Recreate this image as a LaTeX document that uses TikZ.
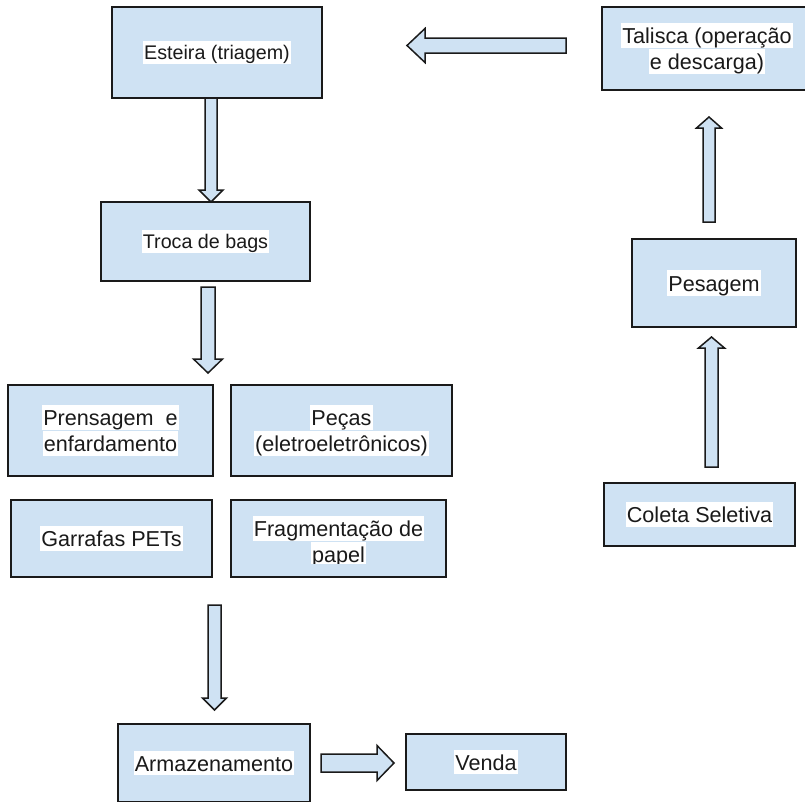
\documentclass[tikz,border=0pt]{standalone}
\usepackage{fontspec}
\setmainfont{Liberation Sans}
\usetikzlibrary{calc}
\definecolor{boxfill}{HTML}{CFE2F3}
\definecolor{edge}{HTML}{1A1A1A}
\newcommand{\hl}[1]{{\setlength{\fboxsep}{0pt}\colorbox{white}{\rule[-0.19em]{0pt}{1.15em}\hspace{1pt}#1\hspace{1pt}}}}
\newcommand{\blockarrow}[5]{%
  \coordinate (ba-s) at (#1);
  \coordinate (ba-e) at (#2);
  \coordinate (ba-h) at ($(ba-e)!#5!(ba-s)$);
  \draw[barrow] ($(ba-s)!#3!90:(ba-e)$) -- ($(ba-h)!#3!90:(ba-e)$) -- ($(ba-h)!#4!90:(ba-e)$) -- (ba-e)
     -- ($(ba-h)!#4!-90:(ba-e)$) -- ($(ba-h)!#3!-90:(ba-e)$) -- ($(ba-s)!#3!-90:(ba-e)$) -- cycle;}
\begin{document}
\begin{tikzpicture}[x=1pt,y=-1pt,
  box/.style={draw=edge, fill=boxfill, line width=1.8pt, rectangle, inner sep=0pt, align=center,
    text=edge, font=\fontsize{21.6}{25}\selectfont},
  smallbox/.style={box, font=\fontsize{19.7}{24}\selectfont},
  txt/.style={inner sep=0pt, align=center, text=edge, font=\fontsize{21.6}{26}\selectfont},
  barrow/.style={draw=edge, fill=boxfill, line width=1.5pt, line join=miter}]
\useasboundingbox (0,0) rectangle (805,801);
\clip (0,0) rectangle (805,801);
% boxes
\node[smallbox, minimum width=210pt, minimum height=91pt] (esteira) at (217,52.5) {\hl{Esteira (triagem)}};
\node[smallbox, minimum width=209pt, minimum height=79pt] (troca) at (205.5,241.5) {\hl{Troca de bags}};
\node[box, minimum width=210pt, minimum height=83pt] (talisca) at (707,48.5) {\hl{Talisca (operação}\\\hl{e descarga)}};
\node[box, minimum width=164pt, minimum height=88pt] (pesagem) at (714,283) {\hl{Pesagem}};
\node[box, minimum width=191pt, minimum height=63pt] (coleta) at (699.5,514.5) {\hl{Coleta Seletiva}};
\node[box, minimum width=205pt, minimum height=91pt] (prensagem) at (110.5,430.5) {\hl{Prensagem\ \ e}\\\hl{enfardamento}};
\node[box, minimum width=221pt, minimum height=91pt] (pecas) at (341.5,430.5) {\hl{Peças}\\\hl{(eletroeletrônicos)}};
\node[box, minimum width=201pt, minimum height=77pt] (garrafas) at (111.5,538.5) {\hl{Garrafas PETs}};
\node[box, minimum width=215pt, minimum height=77pt] (frag) at (338.5,538.5) {};
\begin{scope}
  \clip (231,500) rectangle (446,563);
  \node[txt] (fragtext) at ($(frag.center)+(0,3)$) {\hl{Fragmentação de}\\\hl{papel}};
\end{scope}
\node[box, minimum width=192pt, minimum height=78pt] (armaz) at (214,763) {\hl{Armazenamento}};
\node[box, minimum width=160pt, minimum height=56pt] (venda) at (486,762) {\hl{Venda}};
% block arrows
\blockarrow{211,98}{211,202}{6pt}{12pt}{12pt}
\blockarrow{208,287}{208,373}{7pt}{14.5pt}{14pt}
\blockarrow{566,45.5}{407,45.5}{7.5pt}{17pt}{18pt}
\blockarrow{709,222}{709,117}{6pt}{12.5pt}{11pt}
\blockarrow{711.5,467}{711.5,337}{6.5pt}{13pt}{11pt}
\blockarrow{214.5,605}{214.5,710}{6.5pt}{12pt}{12pt}
\blockarrow{321,763}{394,763}{9pt}{17.5pt}{17pt}
\end{tikzpicture}
\end{document}
